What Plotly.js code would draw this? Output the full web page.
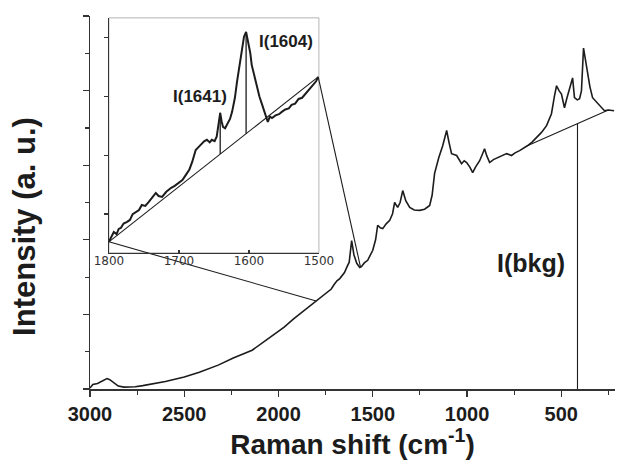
<!DOCTYPE html>
<html>
<head>
<meta charset="utf-8">
<script src="https://cdn.plot.ly/plotly-3.0.1.min.js"></script>
<style>
  html, body { margin: 0; padding: 0; background: #fff; }
  #chart { width: 618px; height: 460px; }
</style>
</head>
<body>
<div id="chart"></div>
<script>
// Full Raman spectrum (cm^-1, arbitrary intensity)
const ramanShift = [3000, 2985, 2960, 2930, 2910, 2895, 2875, 2850, 2820, 2790, 2760, 2720, 2670, 2600, 2550,
  2500, 2420, 2320, 2240, 2140, 2060, 1970, 1920, 1870, 1830, 1800, 1780, 1755, 1735, 1720, 1705, 1690, 1675,
  1660, 1650, 1638, 1625, 1612, 1600, 1585, 1569, 1560, 1545, 1527, 1510, 1500, 1485, 1474, 1460, 1447, 1430,
  1410, 1395, 1384, 1368, 1355, 1341, 1325, 1304, 1280, 1251, 1225, 1198, 1185, 1172, 1150, 1129, 1108, 1095,
  1082, 1055, 1040, 1029, 1015, 1002, 985, 970, 955, 933, 918, 907, 895, 880, 860, 838, 815, 790, 764, 745, 721,
  700, 680, 655, 631, 605, 578, 565, 552, 536, 525, 512, 499, 490, 483, 470, 456, 440, 430, 415, 403, 393, 382,
  372, 361, 348, 334, 315, 297, 285, 271, 250, 235, 220];
const intensity = [0.03, 0.12, 0.15, 0.24, 0.28, 0.25, 0.17, 0.08, 0.05, 0.05, 0.06, 0.09, 0.13, 0.20, 0.26,
  0.32, 0.45, 0.64, 0.83, 1.04, 1.33, 1.66, 1.88, 2.08, 2.24, 2.36, 2.43, 2.52, 2.62, 2.68, 2.80, 2.90, 2.96,
  3.05, 3.12, 3.26, 3.40, 3.98, 3.60, 3.37, 3.26, 3.28, 3.38, 3.45, 3.60, 3.72, 4.00, 4.39, 4.32, 4.30, 4.42,
  4.52, 4.70, 5.00, 4.87, 5.00, 5.32, 5.05, 4.87, 4.80, 4.79, 4.82, 4.92, 5.20, 5.78, 6.20, 6.52, 6.93, 6.60,
  6.31, 6.26, 6.15, 6.04, 6.12, 6.07, 5.95, 5.80, 5.95, 6.12, 6.30, 6.44, 6.25, 6.07, 6.15, 6.20, 6.25, 6.31,
  6.26, 6.33, 6.39, 6.45, 6.52, 6.62, 6.74, 6.88, 7.06, 7.20, 7.38, 7.86, 8.13, 8.00, 7.91, 7.70, 7.54, 7.80,
  8.05, 8.34, 7.81, 7.75, 7.78, 7.99, 9.14, 8.80, 8.53, 8.10, 7.81, 7.70, 7.59, 7.52, 7.46, 7.48, 7.47, 7.46];

// Expanded 1800-1500 cm^-1 window shown in the inset
const zoomShift = [1800, 1796, 1793, 1789, 1786, 1783, 1779, 1774, 1770, 1766, 1761, 1757, 1753, 1748, 1743,
  1738, 1733, 1729, 1724, 1718, 1711, 1706, 1700, 1695, 1690, 1685, 1681, 1676, 1672, 1669, 1664, 1660, 1656,
  1653, 1649, 1646, 1643, 1641, 1639, 1637, 1634, 1631, 1627, 1624, 1620, 1617, 1613, 1610, 1607, 1604, 1601,
  1598, 1596, 1592, 1589, 1585, 1581, 1577, 1573, 1570, 1567, 1562, 1557, 1553, 1548, 1543, 1539, 1534, 1529,
  1524, 1520, 1516, 1512, 1508, 1504, 1501];
const zoomIntensity = [4.7, 7.5, 8.9, 8.0, 10.2, 10.6, 12.5, 13.2, 14.0, 16.5, 17.4, 18.2, 20.4, 20.0, 21.7,
  23.5, 25.5, 24.2, 23.8, 26.0, 27.7, 28.5, 29.8, 31.0, 33.2, 35.5, 38.7, 43.8, 45.0, 46.0, 47.5, 48.1, 47.0,
  48.1, 47.5, 49.4, 55.0, 59.6, 56.0, 53.6, 53.0, 54.5, 57.0, 60.0, 66.0, 72.8, 80.0, 85.5, 92.0, 94.0, 89.8,
  85.0, 80.0, 75.0, 70.2, 66.5, 63.0, 59.0, 55.7, 58.0, 57.4, 58.5, 59.0, 60.0, 61.0, 61.5, 63.0, 63.5, 65.5,
  66.0, 67.5, 68.5, 70.0, 71.5, 73.0, 74.9];

const zoomPeaks = [1641, 1604];
const zoomPeakLabels = ['I(1641)', 'I(1604)'];
const bkgAnchors = [680, 250];       // ends of the linear background under the low-shift bands
const bkgShift = 414;                // position of the background read-out
const bkgLabel = 'I(bkg)';
const connectTargets = [1800, 1565]; // where the inset leader lines meet the full spectrum
const mainTicks = [3000, 2500, 2000, 1500, 1000, 500];
const zoomTicks = [1800, 1700, 1600, 1500];
const xTitle = 'Raman shift (cm<sup>-1</sup>)';
const yTitle = 'Intensity (a. u.)';

// Layout geometry
const X_RANGE = [3000, 215], Y_RANGE = [0, 10];
const ZX_RANGE = [1800, 1500], ZY_RANGE = [0, 100];
const ZX_DOMAIN = [0.036, 0.436], ZY_DOMAIN = [0.365, 0.995];

function valueAt(xs, ys, x) {
  for (let i = 0; i < xs.length - 1; i++) {
    const a = xs[i], b = xs[i + 1];
    if ((x <= a && x >= b) || (x >= a && x <= b)) {
      const t = (x - a) / (b - a);
      return ys[i] + t * (ys[i + 1] - ys[i]);
    }
  }
  return ys[ys.length - 1];
}
function lineAt(x0, y0, x1, y1, x) { return y0 + (x - x0) / (x1 - x0) * (y1 - y0); }

// inset data coordinates -> main data coordinates
function insetToMain(x, y) {
  const px = ZX_DOMAIN[0] + (x - ZX_RANGE[0]) / (ZX_RANGE[1] - ZX_RANGE[0]) * (ZX_DOMAIN[1] - ZX_DOMAIN[0]);
  const py = ZY_DOMAIN[0] + (y - ZY_RANGE[0]) / (ZY_RANGE[1] - ZY_RANGE[0]) * (ZY_DOMAIN[1] - ZY_DOMAIN[0]);
  return [X_RANGE[0] + px * (X_RANGE[1] - X_RANGE[0]), Y_RANGE[0] + py * (Y_RANGE[1] - Y_RANGE[0])];
}

const INK = '#1c1c1c';
const SANS = 'Liberation Sans, Arial, sans-serif';
const traces = [];

// full spectrum
traces.push({ x: ramanShift, y: intensity, mode: 'lines', line: { color: INK, width: 1.6 }, hoverinfo: 'skip' });

// linear background and its read-out
const b0 = valueAt(ramanShift, intensity, bkgAnchors[0]);
const b1 = valueAt(ramanShift, intensity, bkgAnchors[1]);
traces.push({ x: bkgAnchors, y: [b0, b1], mode: 'lines', line: { color: INK, width: 1.1 } });
const bkgValue = lineAt(bkgAnchors[0], b0, bkgAnchors[1], b1, bkgShift);
traces.push({ x: [bkgShift, bkgShift], y: [0, bkgValue], mode: 'lines', line: { color: INK, width: 1.1 } });

// leader lines from the inset to the full spectrum
const zFirst = [zoomShift[0], zoomIntensity[0]];
const zLast = [zoomShift[zoomShift.length - 1], zoomIntensity[zoomIntensity.length - 1]];
[[zFirst, connectTargets[0]], [zLast, connectTargets[1]]].forEach(([p, target]) => {
  const s = insetToMain(p[0], p[1]);
  traces.push({ x: [s[0], target], y: [s[1], valueAt(ramanShift, intensity, target)],
    mode: 'lines', line: { color: INK, width: 1.1 } });
});

// inset spectrum, its baseline and peak heights
traces.push({ x: zoomShift, y: zoomIntensity, xaxis: 'x2', yaxis: 'y2', mode: 'lines',
  line: { color: INK, width: 2 } });
traces.push({ x: [zFirst[0], zLast[0]], y: [zFirst[1], zLast[1]], xaxis: 'x2', yaxis: 'y2', mode: 'lines',
  line: { color: INK, width: 1.1 } });
const annotations = [];
zoomPeaks.forEach((p, i) => {
  const top = valueAt(zoomShift, zoomIntensity, p);
  const base = lineAt(zFirst[0], zFirst[1], zLast[0], zLast[1], p);
  traces.push({ x: [p, p], y: [base, top], xaxis: 'x2', yaxis: 'y2', mode: 'lines',
    line: { color: INK, width: 1.3 } });
  annotations.push(i === 0
    ? { x: p, y: top, xref: 'x2', yref: 'y2', text: zoomPeakLabels[i], showarrow: false,
        xanchor: 'right', yanchor: 'bottom', xshift: 9, yshift: 5 }
    : { x: p, y: top, xref: 'x2', yref: 'y2', text: zoomPeakLabels[i], showarrow: false,
        xanchor: 'left', yanchor: 'middle', xshift: 11, yshift: -10 });
});
annotations.forEach(a => a.font = { family: SANS, size: 17, weight: 'bold', color: INK });
annotations.push({ x: bkgShift, y: 3.37, xref: 'x', yref: 'y', text: bkgLabel, showarrow: false,
  xanchor: 'right', yanchor: 'middle', xshift: -10,
  font: { family: SANS, size: 25, weight: 'bold', color: INK } });
// vertical intensity title, set a little below the plot's mid-height
annotations.push({ x: -0.124, y: 0.437, xref: 'paper', yref: 'paper', text: yTitle, textangle: -90,
  showarrow: false, xanchor: 'center', yanchor: 'middle',
  font: { family: SANS, size: 31, weight: 'bold', color: INK } });

const axisBase = { showgrid: false, zeroline: false, showline: true, linecolor: '#333', linewidth: 1.5,
  tickcolor: '#333', tickwidth: 1.2 };
const bold = (size, color) => ({ family: SANS, size, weight: 'bold', color: color || INK });

const layout = {
  width: 618, height: 460,
  margin: { l: 90, r: 3, t: 16, b: 71 },
  paper_bgcolor: '#fff', plot_bgcolor: 'rgba(0,0,0,0)',
  showlegend: false,
  xaxis: Object.assign({}, axisBase, {
    range: X_RANGE, tickvals: mainTicks, ticks: 'outside', ticklen: 6,
    minor: { dtick: 250, tick0: 0, ticks: 'outside', ticklen: 4, tickcolor: '#333' },
    tickfont: bold(20), title: { text: xTitle, font: bold(28), standoff: 14 }
  }),
  yaxis: Object.assign({}, axisBase, {
    range: Y_RANGE, tick0: 0, dtick: 2, ticks: 'outside', ticklen: 6, showticklabels: false,
    minor: { dtick: 1, ticks: 'outside', ticklen: 4, tickcolor: '#333' }
  }),
  xaxis2: Object.assign({}, axisBase, {
    domain: ZX_DOMAIN, anchor: 'y2', range: ZX_RANGE, tickvals: zoomTicks, ticks: 'inside', ticklen: 3,
    linewidth: 1.3, ticklabelstandoff: -4,
    tickfont: { family: 'DejaVu Sans, sans-serif', size: 12, color: '#333' }
  }),
  yaxis2: Object.assign({}, axisBase, {
    domain: ZY_DOMAIN, anchor: 'x2', range: ZY_RANGE, tick0: 16.5, dtick: 25, ticks: 'outside', ticklen: 4,
    linewidth: 1.3, showticklabels: false
  }),
  shapes: [{ type: 'rect', xref: 'x2 domain', yref: 'y2 domain', x0: 0, x1: 1, y0: 0, y1: 1,
    line: { color: '#b5b5b5', width: 1 }, layer: 'below' }],
  annotations
};

Plotly.newPlot('chart', traces, layout, { staticPlot: true, displayModeBar: false });
</script>
</body>
</html>
